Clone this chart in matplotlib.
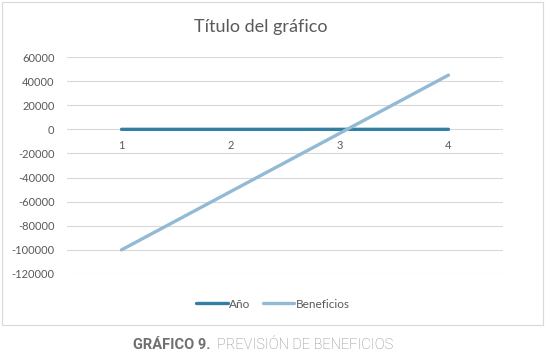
import matplotlib.pyplot as plt
from matplotlib.patches import Rectangle

# data
categorias = [1, 2, 3, 4]
anio = [1, 2, 3, 4]
beneficios = [-100000, -51700, -3400, 45000]
yticks = [60000, 40000, 20000, 0, -20000, -40000, -60000, -80000, -100000, -120000]

W, H = 546, 352
fig = plt.figure(figsize=(W / 100, H / 100), dpi=100)
plt.rcParams['font.family'] = ['Lato', 'DejaVu Sans']

# chart border (excel-like frame)
fig.patches.append(Rectangle((2 / W, 1 - 325 / H), 541 / W, 323 / H,
                             transform=fig.transFigure, fill=False,
                             edgecolor='#d9d9d9', linewidth=0.8))

ax = fig.add_axes([67 / W, 1 - 274 / H, 436 / W, 217 / H])
ax.plot(categorias, anio, color='#337fa3', lw=2.4, label='Año', solid_capstyle='round')
ax.plot(categorias, beneficios, color='#93bad5', lw=2.4, label='Beneficios', solid_capstyle='round')

ax.set_xlim(0.5, 4.5)
ax.set_ylim(-120000, 60000)
ax.set_yticks(yticks)
ax.set_yticklabels([str(v) for v in yticks])
ax.grid(axis='y', color='#d9d9d9', lw=0.8)
ax.set_axisbelow(True)
for s in ax.spines.values():
    s.set_visible(False)
ax.tick_params(axis='y', length=0, labelsize=8, colors='#595959', pad=9)
ax.set_xticks([])

# category labels sit just under the zero line
for c in categorias:
    ax.annotate(str(c), (c, 0), xytext=(0, -8), textcoords='offset points',
                ha='center', va='top', fontsize=8, color='#595959')

fig.text(261 / W, 1 - 27 / H, 'Título del gráfico', ha='center', va='center',
         fontsize=13, color='#595959')

leg = ax.legend(loc='center', bbox_to_anchor=(273 / W, 1 - 304 / H),
                bbox_transform=fig.transFigure, ncol=2, frameon=False,
                fontsize=8.5, handlelength=2.7, handletextpad=0.1, columnspacing=1.0)
for t in leg.get_texts():
    t.set_color('#595959')

# caption below the chart, both parts on one baseline
base_y = 1 - 349 / H
cap = fig.text(133 / W, base_y, 'GRÁFICO 9.', ha='left', va='baseline', fontsize=10.5,
               fontweight='bold', color='#707070', family='Roboto')
fig.canvas.draw()
x_end = cap.get_window_extent().x1 / W
fig.text(x_end + 6 / W, base_y, 'PREVISIÓN DE BENEFICIOS', ha='left', va='baseline',
         fontsize=10.5, fontweight='light', color='#8a8a8a', family='Roboto')

fig.savefig('out.png', dpi=100)
